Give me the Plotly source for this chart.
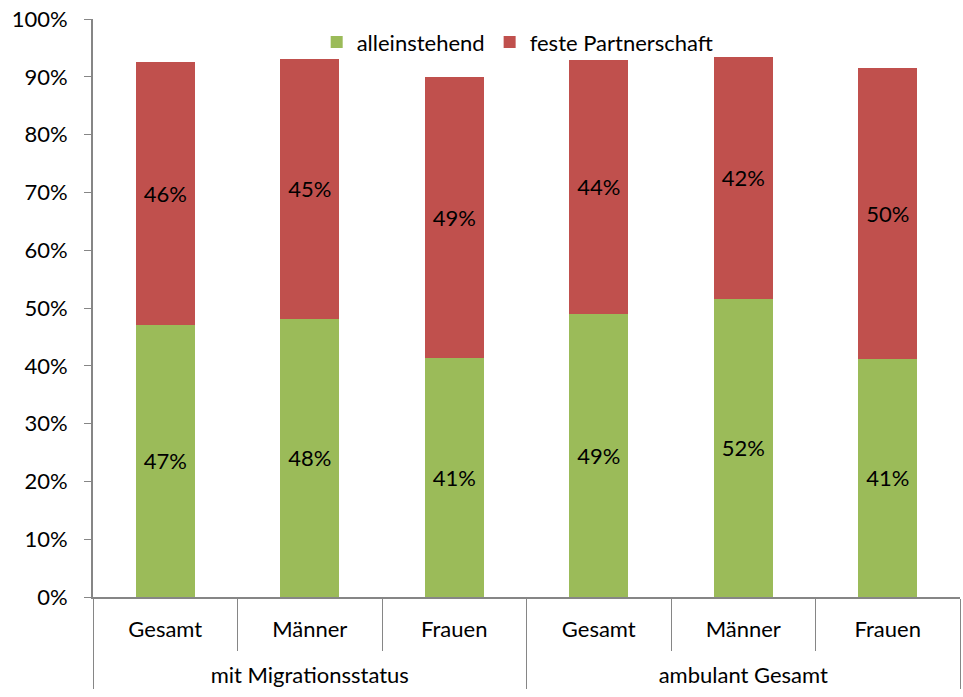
import plotly.graph_objects as go

groups = ["mit Migrationsstatus"] * 3 + ["ambulant Gesamt"] * 3
subgroups = ["Gesamt", "Männer", "Frauen", "Gesamt", "Männer", "Frauen"]

alleinstehend = [47.1, 48.1, 41.3, 49.0, 51.6, 41.2]
partnerschaft = [45.5, 45.0, 48.6, 43.9, 41.8, 50.3]

green = "#9BBB59"
red = "#C0504D"
axis_grey = "#868686"
font = "Lato"

# blank second line pushes the group row further down, as in the original
inner = [s + "<br> " for s in subgroups]

fig = go.Figure()
fig.add_trace(go.Bar(
    x=[groups, inner], y=alleinstehend, name="alleinstehend",
    marker=dict(color=green, line=dict(width=0)),
    text=["%d%%" % round(v) for v in alleinstehend],
    textposition="inside", insidetextanchor="middle",
    textfont=dict(family=font, size=22, color="black"),
))
fig.add_trace(go.Bar(
    x=[groups, inner], y=partnerschaft, name="feste Partnerschaft",
    marker=dict(color=red, line=dict(width=0)),
    text=["%d%%" % round(v) for v in partnerschaft],
    textposition="inside", insidetextanchor="middle",
    textfont=dict(family=font, size=22, color="black"),
))

fig.update_layout(
    barmode="stack",
    bargap=0.59,
    width=963, height=697,
    margin=dict(l=93, r=3, t=19, b=100),
    plot_bgcolor="white", paper_bgcolor="white",
    font=dict(family=font, size=22, color="black"),
    uniformtext=dict(mode="show", minsize=22),
    legend=dict(orientation="h", x=0.258, y=0.96, xanchor="left", yanchor="middle",
                font=dict(size=22), bgcolor="rgba(0,0,0,0)", traceorder="normal"),
    showlegend=True,
)
fig.update_yaxes(
    range=[0, 100], dtick=10, ticksuffix="%",
    showline=True, linecolor=axis_grey, linewidth=2,
    ticks="outside", ticklen=7, tickcolor=axis_grey, tickwidth=1,
    ticklabelstandoff=12, ticklabeloverflow="allow", automargin=False,
    showgrid=False, zeroline=False,
)
fig.update_xaxes(
    type="multicategory",
    showline=True, linecolor=axis_grey, linewidth=2,
    ticks="outside", ticklen=52, tickcolor=axis_grey, tickwidth=1,
    tickson="boundaries", ticklabelstandoff=12, automargin=False,
    showdividers=True, dividercolor=axis_grey, dividerwidth=1,
    showgrid=False,
)

# drop the default page margin so the chart sits flush in the window
fig.write_html("out.html", config={"displayModeBar": False},
               post_script="document.body.style.margin = '0';")
